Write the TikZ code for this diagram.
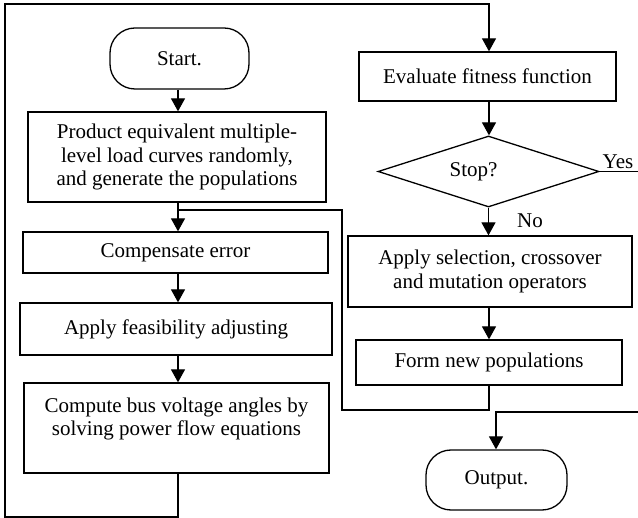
\documentclass[tikz,border=0pt]{standalone}
\usepackage{fontspec}
\setmainfont{Liberation Serif}
\usetikzlibrary{arrows.meta,shapes.geometric}

\begin{document}
\begin{tikzpicture}[x=1pt,y=-1pt,
  line width=1.3pt,
  every node/.style={font=\fontsize{21}{23.5}\selectfont, align=center, inner sep=0pt},
  box/.style={draw, rectangle},
  term/.style={draw, rectangle, rounded corners=25pt},
  decision/.style={draw, diamond},
  arr/.style={-{Triangle[length=13pt,width=14pt]}},
]
\useasboundingbox (0,0) rectangle (638,518);
\clip (0,0) rectangle (638,518);

% left column
\node[term, minimum width=139pt, minimum height=61pt] (start) at (179.5,58.5) {Start.};
\node[box, minimum width=298pt, minimum height=90pt] (prod) at (177,157)
  {Product equivalent multiple-\\level load curves randomly,\\and generate the populations};
\node[box, minimum width=305pt, minimum height=41pt] (comp) at (175.5,252.5) {Compensate error};
\node[box, minimum width=312pt, minimum height=52pt] (feas) at (176,329) {Apply feasibility adjusting};
\node[box, minimum width=305pt, minimum height=90pt] (cbus) at (176.5,428) {};
\node (cbustext) at (176.5,419) {Compute bus voltage angles by\\solving power flow equations};

% right column
\node[box, minimum width=257pt, minimum height=49pt] (eval) at (487.5,76.5) {Evaluate fitness function};
\node[decision, minimum width=221pt, minimum height=71pt] (stop) at (488.5,171.5) {};
\node (stoptext) at (473.5,172) {Stop?};
\node[box, minimum width=284pt, minimum height=71pt] (sel) at (490,271.5)
  {Apply selection, crossover\\and mutation operators};
\node[box, minimum width=266pt, minimum height=45pt] (form) at (489,362.5) {Form new populations};
\node[term, minimum width=141pt, minimum height=60pt] (out) at (496.5,480) {Output.};

% routing points
\coordinate (lc) at (178,0);
\coordinate (rc) at (489,0);
\coordinate (oc) at (496,0);
\coordinate (jn) at (178,210);
\coordinate (lb) at (342,410);
\coordinate (fbl) at (5,517);
\coordinate (ftl) at (5,4);
\coordinate (yr) at (660,171.5);
\coordinate (yb) at (660,412);

% connectors
\draw[arr] (start.south -| lc) -- (prod.north -| lc);
\draw[arr] (prod.south -| lc) -- (comp.north -| lc);
\draw (form.south -| rc) |- (lb) |- (jn);
\draw[arr] (comp.south -| lc) -- (feas.north -| lc);
\draw[arr] (feas.south -| lc) -- (cbus.north -| lc);
\draw[arr] (cbus.south -| lc) -- (lc |- fbl) -- (fbl) -- (ftl) -- (ftl -| rc) -- (eval.north -| rc);
\draw[arr] (eval.south -| rc) -- (stop.north -| rc);
\draw[arr] (stop.south) -- (sel.north -| stop.south);
\draw[arr] (sel.south -| rc) -- (form.north -| rc);
\draw[arr] (stop.east) -- (yr) -- (yb) -- (yb -| oc) -- (out.north -| oc);

% branch labels
\node (yes) at (618,162) {Yes};
\node (no) at (530,221) {No};
\end{tikzpicture}
\end{document}
